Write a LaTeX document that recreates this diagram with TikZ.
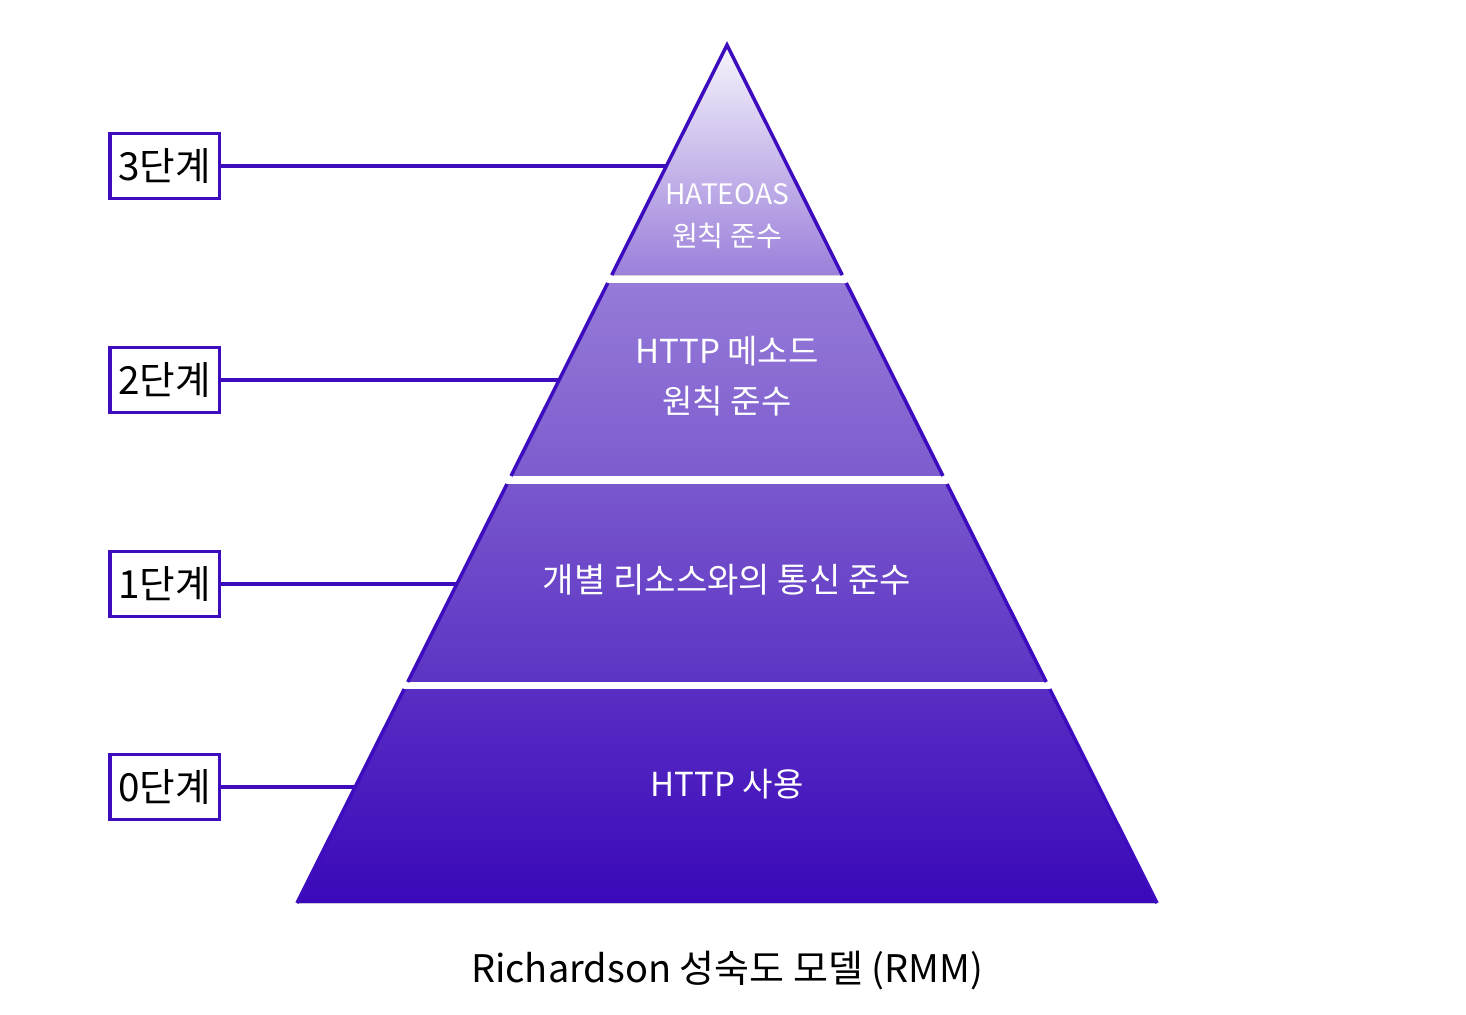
\documentclass[tikz,border=0pt]{standalone}
\usepackage{fontspec}
\setmainfont{Noto Sans CJK KR}
\usepackage{tikz}
\usetikzlibrary{calc}
\usepackage{xcolor}
\definecolor{rmmline}{RGB}{60,12,190}
\definecolor{lay3t}{RGB}{246,244,252}
\definecolor{lay3b}{RGB}{155,128,218}
\definecolor{lay2t}{RGB}{150,123,216}
\definecolor{lay2b}{RGB}{125,92,206}
\definecolor{lay1t}{RGB}{121,87,205}
\definecolor{lay1b}{RGB}{92,52,196}
\definecolor{lay0t}{RGB}{88,46,195}
\definecolor{lay0b}{RGB}{58,8,185}

\begin{document}
\begin{tikzpicture}[x=0.01cm, y=-0.01cm,
  lvlbox/.style={draw=rmmline, line width=1pt, fill=white, anchor=west,
    font=\fontsize{11}{13}\selectfont\addfontfeatures{Numbers=Proportional},
    minimum height=0.65cm, inner xsep=2.4pt},
  laytext/.style={text=white, align=center},
  edge/.style={rmmline, line width=1pt}]
\fill[white] (0,0) rectangle (1466,1014);
\useasboundingbox (0,0) rectangle (1466,1014);
% --- pyramid ---
\coordinate (A) at (727,45);
\coordinate (BL) at (297,903);
\coordinate (BR) at (1157,903);
% top layer
\fill[top color=lay3t, bottom color=lay3b] (A) -- ($(A)!0.2681!(BL)$) -- ($(A)!0.2681!(BR)$) -- cycle;
\draw[edge, line join=miter] ($(A)!0.2681!(BL)$) -- (A) -- ($(A)!0.2681!(BR)$);
% lower layers
\foreach \t/\b/\ct/\cb in {0.2774/0.5023/lay2t/lay2b, 0.5117/0.7424/lay1t/lay1b, 0.7506/1/lay0t/lay0b}
  {\fill[top color=\ct, bottom color=\cb] ($(A)!\t!(BL)$) -- ($(A)!\b!(BL)$) -- ($(A)!\b!(BR)$) -- ($(A)!\t!(BR)$) -- cycle;
   \draw[edge] ($(A)!\t!(BL)$) -- ($(A)!\b!(BL)$) ($(A)!\t!(BR)$) -- ($(A)!\b!(BR)$);}
% --- layer texts ---
\node[laytext, font=\fontsize{8}{12}\selectfont] (t3) at (727,216) {HATEOAS\\원칙 준수};
\node[laytext, font=\fontsize{9.4}{14.2}\selectfont] (t2) at (727,376) {HTTP 메소드\\원칙 준수};
\node[laytext, font=\fontsize{9.7}{14}\selectfont] (t1) at (727,580) {개별 리소스와의 통신 준수};
\node[laytext, font=\fontsize{9.4}{14}\selectfont] (t0) at (727,784) {HTTP 사용};
% --- levels ---
\coordinate (e3) at ($(A)!0.1410!(BL)$);
\coordinate (e2) at ($(A)!0.3904!(BL)$);
\coordinate (e1) at ($(A)!0.6282!(BL)$);
\coordinate (e0) at ($(A)!0.8648!(BL)$);
\foreach \n/\y/\lab in {3/166/3단계, 2/380/2단계, 1/584/1단계, 0/787/0단계}
  {\node[lvlbox] (l\n) at (108,\y) {\lab};
   \draw[edge] (l\n.east) -- (l\n.east -| e\n);}
\node[font=\fontsize{10.8}{14}\selectfont] (cap) at (727,970) {Richardson 성숙도 모델 (RMM)};
\end{tikzpicture}
\end{document}
